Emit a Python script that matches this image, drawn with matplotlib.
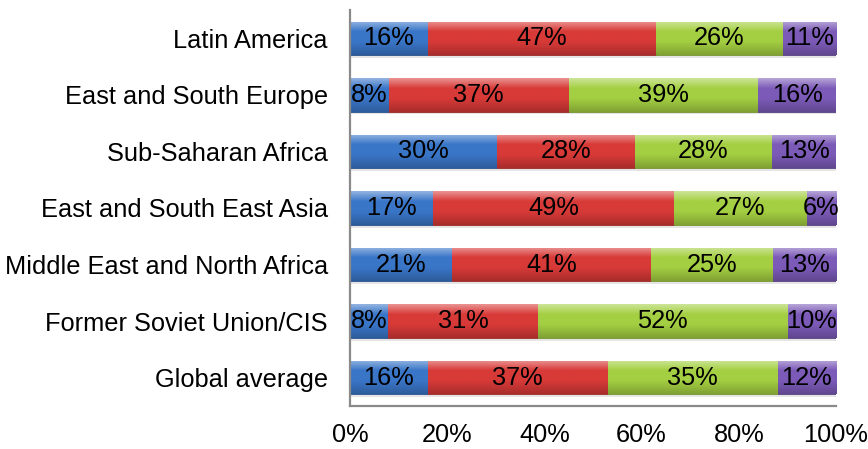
import numpy as np
import matplotlib
matplotlib.use("Agg")
import matplotlib.pyplot as plt
from matplotlib.colors import to_rgb

plt.rcParams["font.family"] = ["Liberation Sans", "DejaVu Sans"]

regions = [
    "Latin America",
    "East and South Europe",
    "Sub-Saharan Africa",
    "East and South East Asia",
    "Middle East and North Africa",
    "Former Soviet Union/CIS",
    "Global average",
]
blue = [16, 8, 30, 17, 21, 8, 16]
red = [47, 37, 28, 49, 41, 31, 37]
green = [26, 39, 28, 27, 25, 52, 35]
purple = [11, 16, 13, 6, 13, 10, 12]

series = [blue, red, green, purple]
colors = ["#3a76c8", "#d83a38", "#a4cf42", "#7c5bb8"]

FS = 18.3


def gradient(color, n=64):
    # lighter band on top, base colour in the middle, darker at the bottom
    c = np.array(to_rgb(color))
    t = np.linspace(0, 1, n)[:, None]
    light = c + (1 - c) * 0.45
    dark = c * 0.78
    top = light + (c - light) * np.clip(t / 0.3, 0, 1)
    bot = c + (dark - c) * np.clip((t - 0.6) / 0.4, 0, 1)
    g = np.where(t < 0.3, top, bot)
    return g[:, None, :]


fig = plt.figure(figsize=(8.68, 4.49), dpi=100)
ax = fig.add_axes([0.4032, 0.0958, 0.5599, 0.8819])

y = np.arange(len(regions))[::-1]
data = np.array(series, dtype=float)
shares = data / data.sum(axis=0)  # each row stacks to 100%
h = 0.59

left = np.zeros(len(regions))
for vals, share, col in zip(series, shares, colors):
    # soft drop shadow beneath each segment
    ax.barh(y - 0.05, share, height=h, left=left, color="#000000", alpha=0.10,
            linewidth=0, zorder=1)
    bars = ax.barh(y, share, height=h, left=left, color=col,
                   edgecolor=tuple(np.array(to_rgb(col)) * 0.7), linewidth=0.6, zorder=2)
    for b, v, s, l in zip(bars, vals, share, left):
        im = ax.imshow(gradient(col), extent=[l, l + s, b.get_y(), b.get_y() + h],
                       origin="upper", aspect="auto", zorder=2.5, interpolation="bilinear")
        im.set_clip_path(b)
        ax.text(l + s / 2, b.get_y() + h / 2, f"{v}%", ha="center", va="center",
                fontsize=FS, color="black", zorder=4)
    left = left + share

ax.set_xlim(0, 1)
ax.set_ylim(-0.5, len(regions) - 0.5)
ax.set_yticks(y)
ax.set_yticklabels(regions, fontsize=FS)
ax.set_xticks(np.linspace(0, 1, 6))
ax.set_xticklabels([f"{int(p)}%" for p in np.linspace(0, 100, 6)], fontsize=FS)
ax.tick_params(axis="y", length=0, pad=16)
ax.tick_params(axis="x", length=0, pad=12)

for side in ["top", "right"]:
    ax.spines[side].set_visible(False)
for side in ["left", "bottom"]:
    ax.spines[side].set_color("#8a8a8a")
    ax.spines[side].set_linewidth(1.6)

fig.savefig("out.png", dpi=100)
